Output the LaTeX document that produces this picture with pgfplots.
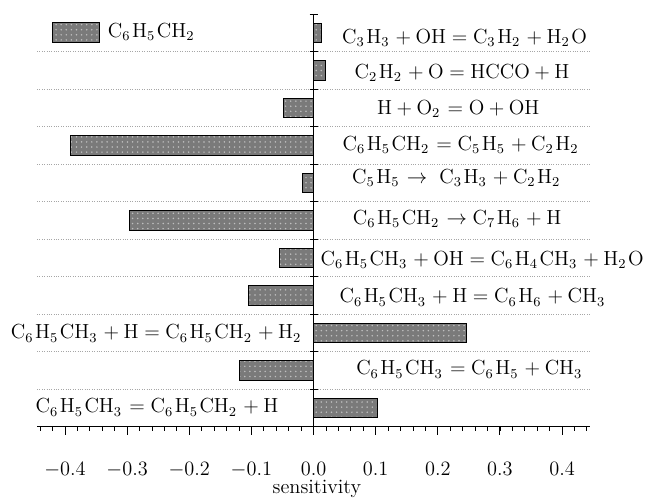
\documentclass[border=0pt,12pt]{standalone}
\usepackage{pgfplots}
\pgfplotsset{compat=1.18}
\usetikzlibrary{patterns}
\newcommand{\ch}[1]{$\mathrm{#1}$}
\begin{document}
\scriptspace=1.5pt
\begin{tikzpicture}
\begin{axis}[
  name=ax,
  scale only axis,
  width=325.3pt, height=242.6pt,
  xmin=-0.445, xmax=0.445, ymin=-0.5, ymax=10.5,
  axis x line*=bottom, axis y line*=center,
  axis line style={black, line width=0.6pt},
  xtick={-0.4,-0.3,-0.2,-0.1,0,0.1,0.2,0.3,0.4},
  minor xtick={-0.44,-0.42,...,0.44},
  tick align=outside,
  ytick align=center,
  major tick length=4.7pt, minor tick length=2.4pt,
  tick style={black, line width=0.6pt},
  minor tick style={black, line width=0.5pt},
  ytick={0.5,1.5,2.5,3.5,4.5,5.5,6.5,7.5,8.5,9.5},
  yticklabels={},
  extra y ticks={-0.5,10.5},
  extra y tick labels={},
  extra y tick style={grid=none},
  ymajorgrids,
  major grid style={densely dotted, gray!70, line width=0.4pt},
  xticklabel style={anchor=base, yshift=-24.2pt, font=\normalsize},
  /pgf/number format/.cd, fixed, fixed zerofill, precision=1, /pgfplots/.cd,
  xlabel={sensitivity},
  xlabel style={at={(axis description cs:0.5,0)}, anchor=base, yshift=-39.6pt, xshift=2pt, font=\normalsize},
  legend style={at={(axis description cs:0,1)}, anchor=north west, xshift=8.3pt, yshift=-3.3pt, draw=none, fill=none, inner sep=0pt, font=\normalsize,
    /tikz/every odd column/.append style={column sep=2.5pt}},
  legend image code/.code={\draw[#1] (0pt,-5.9pt) rectangle (28.2pt,5.9pt);},
  clip=false,
]
\addplot[xbar, bar width=0.52, draw=black, line width=0.5pt, fill=black!52,
  postaction={pattern=dots, pattern color=white!75!black}]
  coordinates {
  (0.103,0) (-0.119,1) (0.246,2) (-0.105,3) (-0.055,4) (-0.296,5)
  (-0.018,6) (-0.391,7) (-0.049,8) (0.019,9) (0.012,10)
  };
\addlegendentry{\ch{C_6H_5CH_2}}
\node[anchor=base] at (axis cs:0.243,9.724) {\ch{C_3H_3+OH=C_3H_2+H_2O}};
\node[anchor=base] at (axis cs:0.239,8.791) {\ch{C_2H_2+O=HCCO+H}};
\node[anchor=base] at (axis cs:0.233,7.839) {\ch{H+O_2=O+OH}};
\node[anchor=base] at (axis cs:0.238,6.879) {\ch{C_6H_5CH_2=C_5H_5+C_2H_2}};
\node[anchor=base] at (axis cs:0.231,5.999) {\ch{C_5H_5\rightarrow\ C_3H_3+C_2H_2}};
\node[anchor=base] at (axis cs:0.231,4.905) {\ch{C_6H_5CH_2\rightarrow C_7H_6+H}};
\node[anchor=base west] at (axis cs:0.0,3.812) {\ch{C_6H_5CH_3+OH=C_6H_4CH_3+H_2O}};
\node[anchor=base] at (axis cs:0.257,2.799) {\ch{C_6H_5CH_3+H=C_6H_6+CH_3}};
\node[anchor=base] at (axis cs:-0.252,1.839) {\ch{C_6H_5CH_3+H=C_6H_5CH_2+H_2}};
\node[anchor=base] at (axis cs:0.252,0.879) {\ch{C_6H_5CH_3=C_6H_5+CH_3}};
\node[anchor=base] at (axis cs:-0.252,-0.135) {\ch{C_6H_5CH_3=C_6H_5CH_2+H}};
\end{axis}
\pgfresetboundingbox
\path[use as bounding box] ([shift={(-21.8pt,-42.5pt)}]ax.south west) rectangle ([shift={(34.7pt,8.4pt)}]ax.north east);
\end{tikzpicture}
\end{document}
